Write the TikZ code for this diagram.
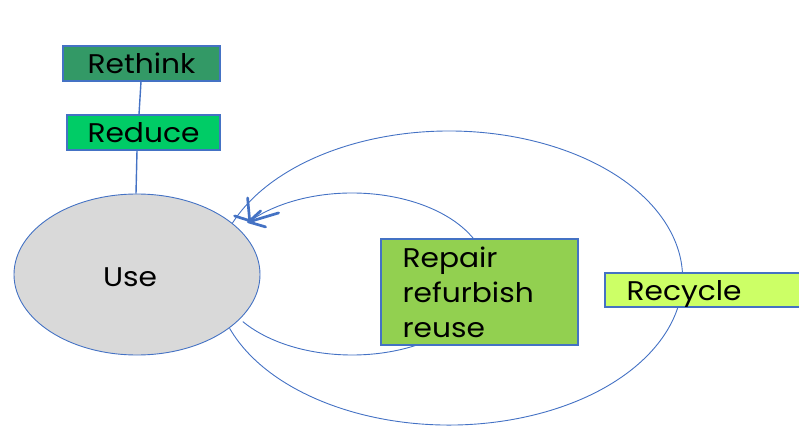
\documentclass[tikz,border=0pt]{standalone}
\usepackage{fontspec}
\usetikzlibrary{shapes.geometric}
\setmainfont{Poppins}[FakeStretch=1.1]
\definecolor{edgeblue}{HTML}{4472C4}
\definecolor{rethinkgreen}{HTML}{339966}
\definecolor{reducegreen}{HTML}{00CC66}
\definecolor{repairgreen}{HTML}{92D050}
\definecolor{recyclelime}{HTML}{CCFF66}
\definecolor{usegrey}{HTML}{D9D9D9}
\tikzset{
  x=1pt, y=1pt,
  lbl/.style={font=\fontsize{27}{35}\selectfont, text=black},
  box/.style={draw=edgeblue, line width=1.3pt, inner sep=0pt, lbl},
  link/.style={draw=edgeblue, line width=1.4pt},
  loop/.style={draw=edgeblue, line width=0.9pt},
  barb/.style={draw=edgeblue, line width=2.7pt, line cap=round}
}
\begin{document}
\begin{tikzpicture}
\useasboundingbox (0,0) rectangle (799,426);
\clip (0,0) rectangle (799,426);

% return loops, drawn first so the boxes sit on top
\coordinate (inS) at (242.8,104.4);
\coordinate (outS) at (229.6,97.7);
\draw[loop] (inS) arc[start angle=-144, end angle=140, x radius=135, y radius=81] coordinate (tip);
\draw[loop] (outS) arc[start angle=-160, end angle=158.5, x radius=233.5, y radius=147] coordinate (outE);

% hand-drawn arrowhead at the end of the inner loop
\draw[barb] (tip) -- ++(17,-5);
\draw[barb] (tip) -- ++(30,9);
\draw[barb] (tip) -- ++(12,11);
\draw[barb] ([shift={(-14,6)}]tip) -- ([shift={(5,0)}]tip);
\draw[barb] ([shift={(-1,24)}]tip) -- ([shift={(1,2)}]tip);

% central node
\node[draw=edgeblue, fill=usegrey, line width=0.9pt, ellipse, minimum width=246pt, minimum height=161pt,
      inner sep=0pt] (use) at (137,151.5) {};
\node[lbl] at (130,149) {Use};

% boxes
\node[box, fill=rethinkgreen, minimum width=157pt, minimum height=35pt] (rethink) at (141.5,362.5) {Rethink};
\node[box, fill=reducegreen, minimum width=153pt, minimum height=35pt] (reduce) at (143.5,293.5) {Reduce};
\node[box, fill=repairgreen, minimum width=197pt, minimum height=106pt] (repair) at (479.5,134) {};
\node[lbl, anchor=west, align=left] at (399,134) {Repair\\refurbish\\reuse};
\node[box, fill=recyclelime, minimum width=212pt, minimum height=34pt] (recycle) at (711,136) {};
\node[lbl, anchor=west] at (623,132.5) {Recycle};

% vertical links
\draw[link] ([xshift=-0.5pt]rethink.south) -- ([xshift=-4.5pt]reduce.north);
\draw[link] ([xshift=-6.5pt]reduce.south) -- ([xshift=-1pt]use.north);
\end{tikzpicture}
\end{document}
